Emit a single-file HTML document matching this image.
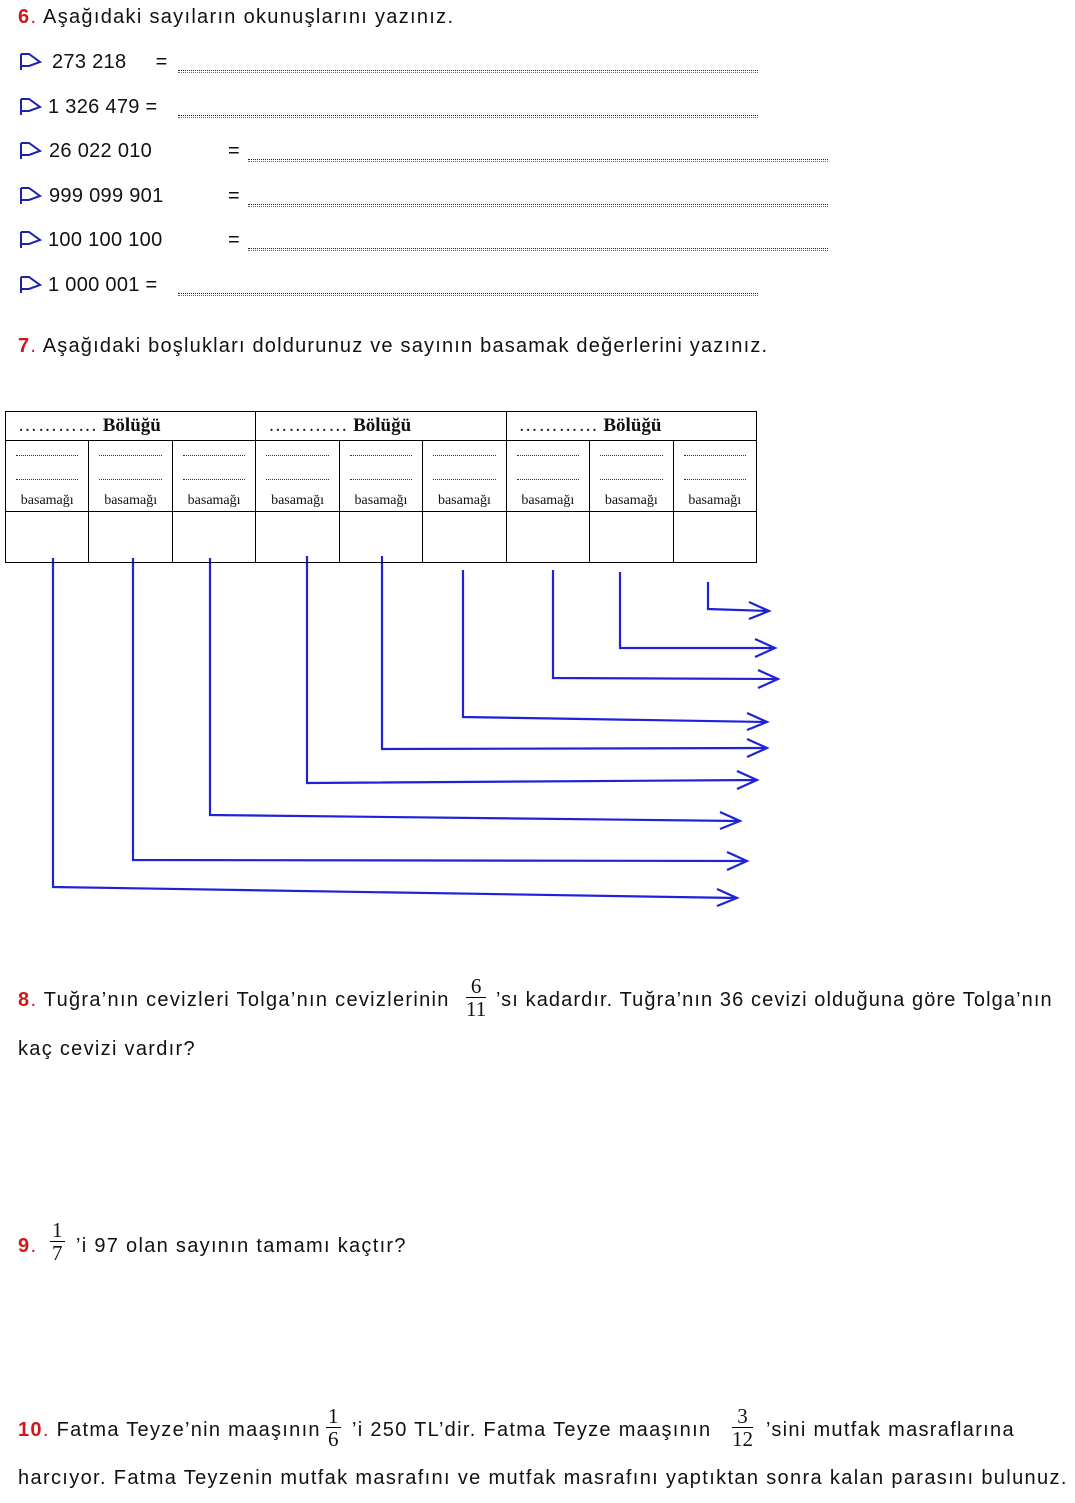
<!DOCTYPE html>
<html><head><meta charset="utf-8"><style>
body{margin:0;width:1075px;height:1503px;background:#fff;position:relative;overflow:hidden;font-family:"Liberation Sans",sans-serif;color:#111}
.t{position:absolute;font-size:20px;line-height:24px;white-space:nowrap;letter-spacing:1.3px}
.n2{letter-spacing:0.3px}
.r{color:#d01818;font-weight:bold}
.dl{position:absolute;height:6px;border-bottom:1px dotted #222;}
.dl:after{content:"";position:absolute;left:0;right:0;top:8px;border-top:1px dotted #3a8a3a}
.fr{position:absolute;font-family:"Liberation Serif",serif;font-size:21px;text-align:center;line-height:22px}
.fr .n{border-bottom:1px solid #000;padding:0 2px}
table{position:absolute;left:5px;top:411px;border-collapse:collapse;font-family:"Liberation Serif",serif;table-layout:fixed;width:752px}
td{border:1px solid #000;padding:0;vertical-align:top}
.h{height:26px;font-size:19px;font-weight:bold;padding-left:12px;line-height:28px}
.h span{font-weight:normal;letter-spacing:1px}
.m{height:70px;font-size:14px;text-align:center;position:relative}
.m div{position:absolute;left:10px;right:10px;border-bottom:1px dotted #333}
.m .b{position:absolute;left:0;right:0;top:76%;border:0;line-height:14px}
.e{height:50px}
</style></head><body>
<div class="t" style="left:18px;top:5px"><span class="r">6</span><span style="color:#d01818">.</span> Aşağıdaki sayıların okunuşlarını yazınız.</div>

<svg style="position:absolute;left:0;top:0" width="1075" height="1503">
<g fill="none" stroke="#1a22b0" stroke-width="2">
<path d="M21 54 v16 M21 54 h8 l11 8 l-11 4 h-8"/>
<path d="M21 99 v16 M21 99 h8 l11 8 l-11 4 h-8"/>
<path d="M21 143 v16 M21 143 h8 l11 8 l-11 4 h-8"/>
<path d="M21 188 v16 M21 188 h8 l11 8 l-11 4 h-8"/>
<path d="M21 232 v16 M21 232 h8 l11 8 l-11 4 h-8"/>
<path d="M21 277 v16 M21 277 h8 l11 8 l-11 4 h-8"/>
</g>
<g fill="none" stroke="#1e22d8" stroke-width="2.2" stroke-linejoin="miter">
<path d="M53 558 V887 L737 898 M717 889 L737 898 L717 906"/>
<path d="M133 558 V860 L747 861 M727 852 L747 861 L727 870"/>
<path d="M210 558 V815 L740 821 M720 812 L740 821 L720 829"/>
<path d="M307 556 V783 L757 780 M737 771 L757 780 L737 789"/>
<path d="M382 556 V749 L767 748 M747 739 L767 748 L747 757"/>
<path d="M463 570 V717 L767 722 M747 713 L767 722 L747 730"/>
<path d="M553 570 V678 L778 679 M758 670 L778 679 L758 688"/>
<path d="M620 572 V648 L775 648 M755 639 L775 648 L755 657"/>
<path d="M708 582 V609 L769 611 M749 602 L769 611 L749 619"/>
</g>
</svg>

<div class="t n2" style="left:52px;top:50px">273 218&nbsp;&nbsp;&nbsp;&nbsp;&nbsp;=</div>
<div class="dl" style="left:178px;top:64px;width:580px"></div>
<div class="t n2" style="left:48px;top:95px">1 326 479 =</div>
<div class="dl" style="left:178px;top:109px;width:580px"></div>
<div class="t n2" style="left:49px;top:139px">26 022 010</div><div class="t" style="left:228px;top:139px">=</div>
<div class="dl" style="left:248px;top:153px;width:580px"></div>
<div class="t n2" style="left:49px;top:184px">999 099 901</div><div class="t" style="left:228px;top:184px">=</div>
<div class="dl" style="left:248px;top:198px;width:580px"></div>
<div class="t n2" style="left:48px;top:228px">100 100 100</div><div class="t" style="left:228px;top:228px">=</div>
<div class="dl" style="left:248px;top:242px;width:580px"></div>
<div class="t n2" style="left:48px;top:273px">1 000 001 =</div>
<div class="dl" style="left:178px;top:287px;width:580px"></div>

<div class="t" style="left:18px;top:334px;letter-spacing:1.2px"><span class="r">7</span><span style="color:#d01818">.</span> Aşağıdaki boşlukları doldurunuz ve sayının basamak değerlerini yazınız.</div>

<table>
<tr><td class="h" colspan="3"><span>…………</span> Bölüğü</td><td class="h" colspan="3"><span>…………</span> Bölüğü</td><td class="h" colspan="3"><span>…………</span> Bölüğü</td></tr>
<tr>
<td class="m"><div style="top:14px"></div><div style="top:38px"></div><span class="b">basamağı</span></td>
<td class="m"><div style="top:14px"></div><div style="top:38px"></div><span class="b">basamağı</span></td>
<td class="m"><div style="top:14px"></div><div style="top:38px"></div><span class="b">basamağı</span></td>
<td class="m"><div style="top:14px"></div><div style="top:38px"></div><span class="b">basamağı</span></td>
<td class="m"><div style="top:14px"></div><div style="top:38px"></div><span class="b">basamağı</span></td>
<td class="m"><div style="top:14px"></div><div style="top:38px"></div><span class="b">basamağı</span></td>
<td class="m"><div style="top:14px"></div><div style="top:38px"></div><span class="b">basamağı</span></td>
<td class="m"><div style="top:14px"></div><div style="top:38px"></div><span class="b">basamağı</span></td>
<td class="m"><div style="top:14px"></div><div style="top:38px"></div><span class="b">basamağı</span></td>
</tr>
<tr><td class="e"></td><td class="e"></td><td class="e"></td><td class="e"></td><td class="e"></td><td class="e"></td><td class="e"></td><td class="e"></td><td class="e"></td></tr>
</table>

<div class="t" style="left:18px;top:988px"><span class="r">8</span><span style="color:#d01818">.</span> Tuğra’nın cevizleri Tolga’nın cevizlerinin</div>
<div class="fr" style="left:466px;top:975px"><div class="n">6</div><div>11</div></div>
<div class="t" style="left:496px;top:988px;letter-spacing:1.1px">’sı kadardır. Tuğra’nın 36 cevizi olduğuna göre Tolga’nın</div>
<div class="t" style="left:18px;top:1037px">kaç cevizi vardır?</div>

<div class="t" style="left:18px;top:1234px"><span class="r">9</span><span style="color:#d01818">.</span></div>
<div class="fr" style="left:50px;top:1219px"><div class="n">1</div><div>7</div></div>
<div class="t" style="left:76px;top:1234px">’i 97 olan sayının tamamı kaçtır?</div>

<div class="t" style="left:18px;top:1418px"><span class="r">10</span><span style="color:#d01818">.</span> Fatma Teyze’nin maaşının</div>
<div class="fr" style="left:326px;top:1405px"><div class="n">1</div><div>6</div></div>
<div class="t" style="left:352px;top:1418px">’i 250 TL’dir. Fatma Teyze maaşının</div>
<div class="fr" style="left:732px;top:1405px"><div class="n">3</div><div>12</div></div>
<div class="t" style="left:766px;top:1418px">’sini mutfak masraflarına</div>
<div class="t" style="left:18px;top:1466px;letter-spacing:1.35px">harcıyor. Fatma Teyzenin mutfak masrafını ve mutfak masrafını yaptıktan sonra kalan parasını bulunuz.</div>
</body></html>
